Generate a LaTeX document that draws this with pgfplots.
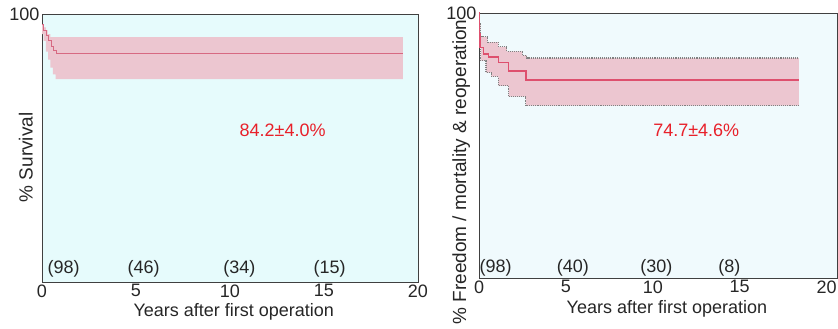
\documentclass[border=0pt]{standalone}
\usepackage{pgfplots}
\pgfplotsset{compat=1.18}
\usepgfplotslibrary{fillbetween}
\usepackage{fontspec}
\setmainfont{Liberation Sans}
\definecolor{bgL}{RGB}{230,251,252}
\definecolor{bgR}{RGB}{240,250,253}
\definecolor{band}{RGB}{236,198,208}
\definecolor{lineL}{RGB}{215,105,130}
\definecolor{lineR}{RGB}{222,80,110}
\definecolor{txtred}{RGB}{232,32,42}
\pgfplotsset{
  km/.style={
    scale only axis, xmin=0, ymin=0, ymax=100,
    xtick={0,5,10,15,20}, ytick={100},
    /pgf/number format/assume math mode=true,
    major tick length=0pt,
    axis line style={black!75, line width=0.9pt},
    tick label style={font=\fontsize{18}{21}\selectfont, text=black!85},
    xlabel style={font=\fontsize{18}{21}\selectfont, text=black!85},
    ylabel style={font=\fontsize{19}{22}\selectfont, text=black!85},
    xticklabel style={yshift=1pt},
    yticklabel style={xshift=1pt, yshift=0pt},
    xlabel={Years after first operation},
    clip=false,
  }
}
\begin{document}
\begin{tikzpicture}
% left panel
\begin{axis}[km, at={(42pt,47pt)}, anchor=south west, width=376pt, height=268pt, xmax=20,
  axis background/.style={fill=bgL},
  ylabel={\% Survival},
  ylabel style={at={(rel axis cs:-0.043,0.465)}, anchor=center},
  xlabel style={at={(rel axis cs:0.51,-0.11)}, anchor=center}]
\addplot[const plot, draw=none, name path=uL] coordinates {(0,96) (0.08,95) (0.2,94) (0.3,92.5) (0.45,91.4) (19.2,91.4)};
\addplot[const plot, draw=none, name path=lL] coordinates {(0,92.5) (0.08,90) (0.2,86) (0.32,83) (0.45,80) (0.58,77.5) (0.72,75.7) (19.2,75.7)};
\addplot[band] fill between[of=uL and lL];
\addplot[const plot, color=lineL, line width=0.8pt] coordinates {(0,96) (0.1,94) (0.22,92) (0.35,90) (0.48,88) (0.6,86.5) (0.75,85.2) (19.2,85.2)};
\node[font=\fontsize{18}{21}\selectfont, text=txtred] at (axis cs:12.8,56.5) {84.2±4.0\%};
\node[font=\fontsize{18}{21}\selectfont, text=black!85] at (axis cs:1.15,5.0) {(98)};
\node[font=\fontsize{18}{21}\selectfont, text=black!85] at (axis cs:5.4,5.0) {(46)};
\node[font=\fontsize{18}{21}\selectfont, text=black!85] at (axis cs:10.5,5.0) {(34)};
\node[font=\fontsize{18}{21}\selectfont, text=black!85] at (axis cs:15.3,5.0) {(15)};
\end{axis}
% right panel
\begin{axis}[km, at={(479pt,51pt)}, anchor=south west, width=358pt, height=265pt, xmax=20.6,
  axis background/.style={fill=bgR},
  ylabel={\% Freedom / mortality \& reoperation},
  ylabel style={at={(rel axis cs:-0.05,0.40)}, anchor=center},
  xlabel style={at={(rel axis cs:0.525,-0.115)}, anchor=center}]
\addplot[const plot, gray, densely dotted, line width=1.1pt, name path=uR] coordinates {(0,100) (0.03,96) (0.1,91) (0.5,89) (1.1,87.2) (1.6,85.5) (2.5,84) (2.75,83) (18.4,83)};
\addplot[const plot, gray, densely dotted, line width=1.1pt, name path=lR] coordinates {(0,100) (0.03,88) (0.1,82) (0.4,77.5) (0.7,76) (1.12,72.5) (1.7,68.4) (2.7,65) (18.4,65)};
\addplot[band] fill between[of=uR and lR];
\addplot[const plot, color=lineR, line width=1.6pt] coordinates {(0,100) (0.03,92) (0.06,87) (0.25,84.5) (0.55,83.5) (1.12,81.3) (1.7,78) (2.7,74.7) (18.4,74.7)};
\node[font=\fontsize{18}{21}\selectfont, text=txtred] at (axis cs:12.5,55.8) {74.7±4.6\%};
\node[font=\fontsize{18}{21}\selectfont, text=black!85] at (axis cs:0.95,3.8) {(98)};
\node[font=\fontsize{18}{21}\selectfont, text=black!85] at (axis cs:5.4,3.8) {(40)};
\node[font=\fontsize{18}{21}\selectfont, text=black!85] at (axis cs:10.2,3.8) {(30)};
\node[font=\fontsize{18}{21}\selectfont, text=black!85] at (axis cs:14.4,3.8) {(8)};
\end{axis}
\pgfresetboundingbox
\useasboundingbox (0pt,0pt) rectangle (838pt,329pt);
\end{tikzpicture}
\end{document}
